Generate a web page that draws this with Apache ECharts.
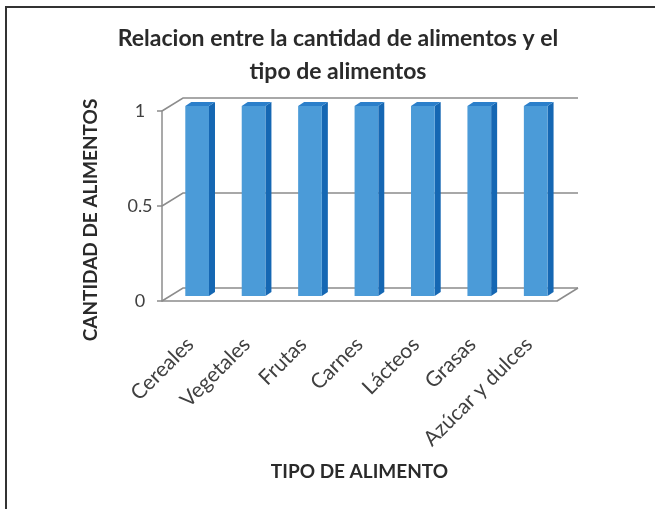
<!DOCTYPE html>
<html>
<head>
<meta charset="utf-8">
<script src="https://cdn.jsdelivr.net/npm/echarts@6/dist/echarts.min.js"></script>
<style>
  html, body { margin: 0; padding: 0; background: #fff; }
  #chart { width: 655px; height: 509px; }
</style>
</head>
<body>
<div id="chart"></div>
<script>
// Food groups and how many of each were recorded
const categories = ['Cereales', 'Vegetales', 'Frutas', 'Carnes', 'Lácteos', 'Grasas', 'Azúcar y dulces'];
const cantidad = [1, 1, 1, 1, 1, 1, 1];
const yTicks = [0, 0.5, 1];

const FONT = 'Lato, "Open Sans", sans-serif';
// pseudo-3D depth of the plot box, in pixels
const DEPTH_X = 21, DEPTH_Y = -13;

const chart = echarts.init(document.getElementById('chart'));

// back walls, gridlines and floor of the 3D box
function renderWalls(params, api) {
  const cs = params.coordSys;
  const v = api.value(0);
  const y = api.coord([0, v])[1];
  const x0 = cs.x, x1 = cs.x + cs.width;
  const children = [{
    type: 'polyline',
    shape: { points: [[x0, y], [x0 + DEPTH_X, y + DEPTH_Y], [x1 + DEPTH_X, y + DEPTH_Y]] },
    style: { stroke: '#8c8c8c', lineWidth: 1.5, fill: null }
  }];
  if (v === 0) {
    children.push({
      type: 'polyline',
      shape: { points: [[x1, y], [x1 + DEPTH_X, y + DEPTH_Y]] },
      style: { stroke: '#8c8c8c', lineWidth: 1.5, fill: null }
    });
  }
  return { type: 'group', children: children };
}

// 3D column: front face, side face and top face
function renderBar(params, api) {
  const i = api.value(0);
  const v = api.value(1);
  const band = api.size([1, 0])[0];
  const c = api.coord([i, v]);
  const base = api.coord([i, 0]);
  const fx = DEPTH_X * 0.33, fy = -5;
  const w = band * 0.42;
  const dx = 6, dy = -4;
  const left = c[0] + fx - w / 2, right = left + w;
  const top = c[1] + fy, bottom = base[1] + fy;
  return {
    type: 'group',
    children: [
      { type: 'polygon',
        shape: { points: [[right, top], [right + dx, top + dy], [right + dx, bottom + dy], [right, bottom]] },
        style: { fill: '#1567b3' } },
      { type: 'polygon',
        shape: { points: [[left, top], [left + dx, top + dy], [right + dx, top + dy], [right, top]] },
        style: { fill: '#2b7fca' } },
      { type: 'rect',
        shape: { x: left, y: top, width: w, height: bottom - top },
        style: { fill: '#4b9bd8' } }
    ]
  };
}

chart.setOption({
  backgroundColor: '#ffffff',
  animation: false,
  title: {
    text: 'Relacion entre la cantidad de alimentos y el\ntipo de alimentos',
    left: 338, top: 22, textAlign: 'center', padding: 0,
    textStyle: { fontFamily: FONT, fontSize: 23, fontWeight: 'bold', color: '#2a2a2a', lineHeight: 33 }
  },
  grid: { left: 162, right: 98, top: 111, bottom: 208 },
  xAxis: {
    type: 'category',
    data: categories,
    name: 'TIPO DE ALIMENTO',
    nameLocation: 'middle',
    nameGap: 161,
    nameTextStyle: { fontFamily: FONT, fontSize: 19, fontWeight: 'bold', color: '#2a2a2a' },
    axisLine: { show: true, lineStyle: { color: '#8c8c8c', width: 1.5 } },
    axisTick: { show: false },
    axisLabel: { rotate: 45, margin: 40, fontFamily: FONT, fontSize: 21, color: '#404040', interval: 0 },
    splitLine: { show: false }
  },
  yAxis: {
    type: 'value',
    min: 0, max: 1, interval: 0.5,
    name: 'CANTIDAD DE ALIMENTOS',
    nameLocation: 'middle',
    nameGap: 62,
    nameTextStyle: { fontFamily: FONT, fontSize: 19, fontWeight: 'bold', color: '#2a2a2a', padding: [0, 28, 0, 0] },
    axisLine: { show: true, lineStyle: { color: '#8c8c8c', width: 1.5 } },
    axisTick: { show: true, length: 5, lineStyle: { color: '#8c8c8c', width: 1.5 } },
    axisLabel: { margin: 22, fontFamily: FONT, fontSize: 18, color: '#404040', align: 'center',
                 formatter: v => String(v) },
    splitLine: { show: false }
  },
  graphic: [{
    type: 'polyline',
    shape: { points: [[6, 509], [6, 7], [655, 7]] },
    style: { stroke: '#333333', lineWidth: 2, fill: null },
    silent: true
  }],
  series: [
    {
      type: 'custom',
      renderItem: renderWalls,
      data: yTicks.map(v => [v]),
      encode: { y: 0 },
      z: 1, silent: true
    },
    {
      type: 'custom',
      renderItem: renderBar,
      data: cantidad.map((v, i) => [i, v]),
      encode: { x: 0, y: 1 },
      z: 3
    }
  ]
});
</script>
</body>
</html>
